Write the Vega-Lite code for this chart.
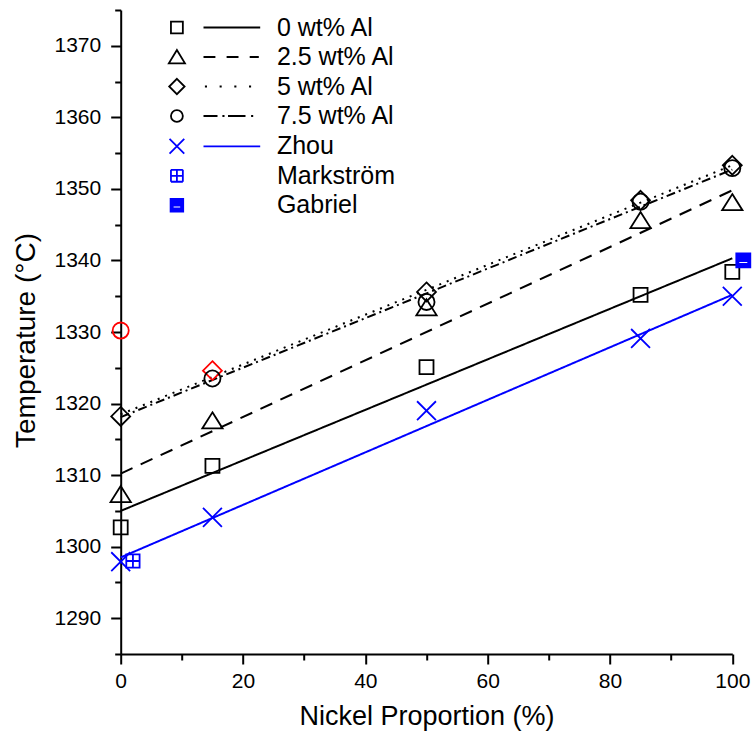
{
  "$schema": "https://vega.github.io/schema/vega-lite/v6.json",
  "width": 611.6,
  "height": 644,
  "autosize": "none",
  "padding": {"left": 120.7, "top": 10, "right": 20.7, "bottom": 84},
  "background": "white",
  "config": {
    "view": {"stroke": null},
    "font": "Liberation Sans",
    "axis": {
      "domainColor": "black", "domainWidth": 2, "tickColor": "black", "tickWidth": 2,
      "labelColor": "black", "labelFont": "Liberation Sans", "labelFontSize": 21,
      "titleFont": "Liberation Sans", "titleFontSize": 27, "titleFontWeight": "normal", "titleColor": "black",
      "grid": false, "labelFlush": false, "labelOverlap": false
    },
    "legend": {
      "padding": 0, "symbolSize": 196, "symbolStrokeWidth": 1.8, "symbolOpacity": 1,
      "labelFont": "Liberation Sans", "labelFontSize": 25, "labelColor": "black",
      "labelOffset": 87.5, "rowPadding": 3.5, "labelLimit": 300
    }
  },
  "datasets": {
    "fits": [
      {"series": "0 wt% Al", "ni": 0, "temp": 1305.0},
      {"series": "0 wt% Al", "ni": 100, "temp": 1340.3},
      {"series": "2.5 wt% Al", "ni": 0, "temp": 1310.2},
      {"series": "2.5 wt% Al", "ni": 100, "temp": 1349.8},
      {"series": "5 wt% Al", "ni": 0, "temp": 1318.5},
      {"series": "5 wt% Al", "ni": 100, "temp": 1353.3},
      {"series": "7.5 wt% Al", "ni": 0, "temp": 1318.1},
      {"series": "7.5 wt% Al", "ni": 100, "temp": 1352.7},
      {"series": "Zhou", "ni": 0, "temp": 1298.5},
      {"series": "Zhou", "ni": 100, "temp": 1335.2}
    ],
    "points": [
      {"series": "0 wt% Al", "ni": 0, "temp": 1302.7},
      {"series": "0 wt% Al", "ni": 15, "temp": 1311.3},
      {"series": "0 wt% Al", "ni": 50, "temp": 1325.1},
      {"series": "0 wt% Al", "ni": 85, "temp": 1335.2},
      {"series": "0 wt% Al", "ni": 100, "temp": 1338.4},
      {"series": "2.5 wt% Al", "ni": 0, "temp": 1307.3},
      {"series": "2.5 wt% Al", "ni": 15, "temp": 1317.6},
      {"series": "2.5 wt% Al", "ni": 50, "temp": 1333.4},
      {"series": "2.5 wt% Al", "ni": 85, "temp": 1345.6},
      {"series": "2.5 wt% Al", "ni": 100, "temp": 1348.1},
      {"series": "5 wt% Al", "ni": 0, "temp": 1318.2},
      {"series": "5 wt% Al", "ni": 15, "temp": 1324.6, "outlier": true},
      {"series": "5 wt% Al", "ni": 50, "temp": 1335.6},
      {"series": "5 wt% Al", "ni": 85, "temp": 1348.4},
      {"series": "5 wt% Al", "ni": 100, "temp": 1353.3},
      {"series": "7.5 wt% Al", "ni": 0, "temp": 1330.2, "outlier": true},
      {"series": "7.5 wt% Al", "ni": 15, "temp": 1323.5},
      {"series": "7.5 wt% Al", "ni": 50, "temp": 1334.2},
      {"series": "7.5 wt% Al", "ni": 85, "temp": 1348.2},
      {"series": "7.5 wt% Al", "ni": 100, "temp": 1352.9},
      {"series": "Zhou", "ni": 0, "temp": 1297.9},
      {"series": "Zhou", "ni": 15, "temp": 1304.1},
      {"series": "Zhou", "ni": 50, "temp": 1319.0},
      {"series": "Zhou", "ni": 85, "temp": 1329.1},
      {"series": "Zhou", "ni": 100, "temp": 1335.0},
      {"series": "Markström", "ni": 2, "temp": 1298.0},
      {"series": "Gabriel", "ni": 101.8, "temp": 1340.0}
    ]
  },
  "layer": [
    {
      "data": {"name": "fits"},
      "mark": {"type": "line", "strokeWidth": 2},
      "encoding": {
        "x": {"field": "ni", "type": "quantitative",
              "scale": {"domain": [0, 100], "nice": false, "zero": false},
              "axis": {"orient": "bottom", "values": [0, 20, 40, 60, 80, 100], "tickSize": 10, "labelPadding": 6,
                       "title": "Nickel Proportion (%)", "titlePadding": 12}},
        "y": {"field": "temp", "type": "quantitative",
              "scale": {"domain": [1285, 1375], "nice": false, "zero": false},
              "axis": {"orient": "left", "values": [1290, 1300, 1310, 1320, 1330, 1340, 1350, 1360, 1370], "format": "d", "tickSize": 10, "labelPadding": 10,
                       "title": "Temperature (°C)", "titlePadding": 13, "titleFontSize": 28, "titleY": 330}},
        "strokeDash": {"field": "series", "type": "nominal",
                       "scale": {"domain": ["0 wt% Al", "2.5 wt% Al", "5 wt% Al", "7.5 wt% Al", "Zhou"],
                                 "range": [[1, 0], [13, 9], [2, 6], [9, 4, 2, 4], [1, 0]]},
                       "legend": null},
        "stroke": {"condition": {"test": "datum.series === 'Zhou'", "value": "#0000ff"}, "value": "#000000"}
      }
    },
    {
      "data": {"name": "points"},
      "mark": {"type": "point", "size": 196, "strokeWidth": 1.8, "opacity": 1},
      "encoding": {
        "x": {"field": "ni", "type": "quantitative",
              "axis": {"orient": "bottom", "values": [10, 30, 50, 70, 90], "tickSize": 6, "labels": false, "domain": false, "title": null}},
        "y": {"field": "temp", "type": "quantitative",
              "axis": {"orient": "left", "values": [1285, 1295, 1305, 1315, 1325, 1335, 1345, 1355, 1365, 1375], "tickSize": 6, "labels": false, "domain": false, "title": null}},
        "shape": {"field": "series", "type": "nominal",
                  "scale": {"domain": ["0 wt% Al", "2.5 wt% Al", "5 wt% Al", "7.5 wt% Al", "Zhou", "Markström", "Gabriel"],
                            "range": [
                              "M-1,-1H1V1H-1Z",
                              "M0,-1.2L1.45,1.1L-1.45,1.1Z",
                              "M0,-1.35L1.35,0L0,1.35L-1.35,0Z",
                              "M-1.15,0A1.15,1.15,0,1,1,1.15,0A1.15,1.15,0,1,1,-1.15,0Z",
                              "M-1.35,-1.35L1.35,1.35M-1.35,1.35L1.35,-1.35",
                              "M-0.95,-0.95H0.95V0.95H-0.95Z M0,-0.95V0.95M-0.95,0H0.95",
                              "M-1,-1H1V1H-1Z M-0.7,0.1V0.5H0.7V0.1Z"
                            ]},
                  "legend": null},
        "stroke": {"condition": [
                     {"test": "datum.outlier === true", "value": "#ff0000"},
                     {"test": "datum.series === 'Zhou' || datum.series === 'Markström' || datum.series === 'Gabriel'", "value": "#0000ff"}
                   ],
                   "value": "#000000"},
        "fill": {"condition": {"test": "datum.series === 'Gabriel'", "value": "#0000ff"}, "value": "transparent"}
      }
    },
    {
      "data": {"name": "points"},
      "transform": [{"filter": "false"}],
      "mark": {"type": "point", "filled": false, "stroke": "#000000", "strokeWidth": 1.8, "size": 196, "opacity": 1},
      "encoding": {
        "shape": {"field": "series", "type": "nominal",
                  "scale": {"domain": ["0 wt% Al", "2.5 wt% Al", "5 wt% Al", "7.5 wt% Al"],
                            "range": [
                              "M-0.85,-0.85H0.85V0.85H-0.85Z M3.8,0H11.9",
                              "M0,-1L1.15,0.9L-1.15,0.9Z M3.8,0H5.5M7.1,0H8.8M10.4,0H11.7",
                              "M0,-1.1L1.1,0L0,1.1L-1.1,0Z M4,0H4.3M6.1,0H6.4M8.2,0H8.5M10.3,0H10.6",
                              "M-0.85,0A0.85,0.85,0,1,1,0.85,0A0.85,0.85,0,1,1,-0.85,0Z M3.8,0H5.8M6.5,0H6.8M7.3,0H9.8M10.6,0H10.9"
                            ]},
                  "legend": {"title": null, "orient": "none", "legendX": 43.7, "legendY": 5}}
      }
    },
    {
      "data": {"name": "points"},
      "transform": [{"filter": "false"}],
      "mark": {"type": "point", "filled": true, "fill": "#0000ff", "stroke": "#0000ff", "strokeWidth": 1.8, "size": 196, "opacity": 1},
      "encoding": {
        "shape": {"field": "series", "type": "nominal",
                  "scale": {"domain": ["Zhou", "Markström", "Gabriel"],
                            "range": [
                              "M-1.05,-1.05L1.05,1.05M-1.05,1.05L1.05,-1.05M3.8,0H11.9",
                              "M-0.85,-0.85H0.85M0.85,-0.85V0.85M0.85,0.85H-0.85M-0.85,0.85V-0.85M0,-0.85V0.85M-0.85,0H0.85",
                              "M-0.9,-0.9H0.9V0.9H-0.9Z M-0.6,0.05V0.45H0.6V0.05Z"
                            ]},
                  "legend": {"title": null, "orient": "none", "legendX": 43.7, "legendY": 123.8}}
      }
    }
  ],
  "resolve": {"axis": {"x": "independent", "y": "independent"}, "scale": {"shape": "independent"}}
}
